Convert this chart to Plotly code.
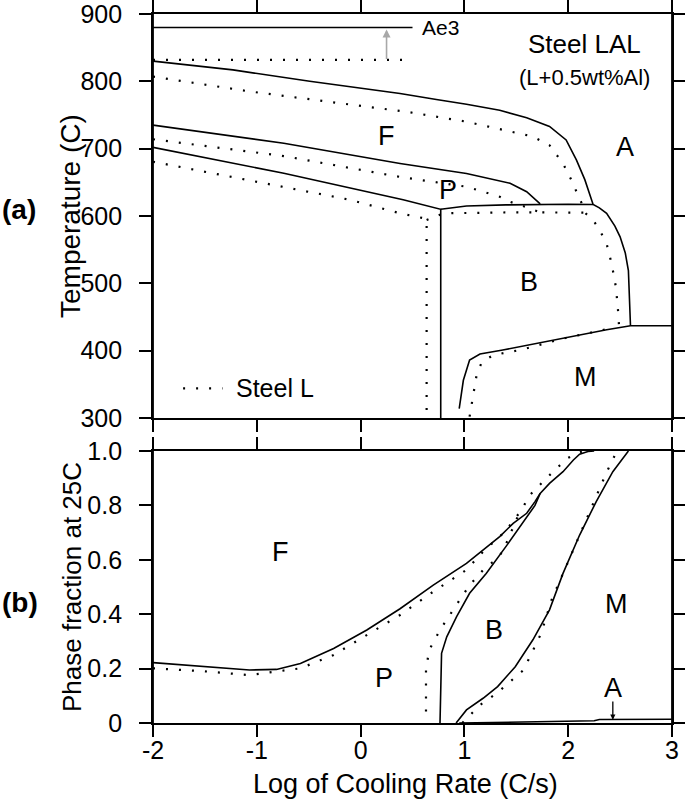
import plotly.graph_objects as go

# ---------------- (a) CCT diagram: temperature vs log cooling rate ----------------
# Steel LAL (solid)
ae3_lal_x = [-2, 0.5]
ae3_lal_T = [880, 880]
fs_lal_x = [-2, -1.23, -0.49, 0.38, 0.73, 1.02, 1.34, 1.6, 1.82, 1.98, 2.08, 2.16, 2.24, 2.3, 2.37, 2.45, 2.5, 2.55, 2.58, 2.59, 2.6]
fs_lal_T = [830, 817, 800, 782, 773, 766, 757, 746, 733, 713, 683, 654, 617, 612, 604, 585, 569, 545, 519, 480, 437]
ps_lal_x = [-2, -0.74, 0.38, 1.02, 1.44, 1.6, 1.73]
ps_lal_T = [735, 708, 678, 663, 648.5, 636, 618]
pf_lal_x = [-2, -0.74, 0.41, 0.772, 0.772]
pf_lal_T = [702, 663.4, 624, 610, 300]
bs_lal_x = [0.772, 0.9, 1.02, 1.4, 1.73, 2.0, 2.24]
bs_lal_T = [610, 613, 614.8, 616.5, 617.5, 617.5, 617]
ms_lal_x = [0.95, 0.99, 1.05, 1.15, 1.37, 1.86, 2.37, 2.6, 3.0]
ms_lal_T = [314, 356, 386, 395, 401, 416, 431, 437, 437]

# Steel L (dotted)
ae3_l_x = [-2, 0.48]
ae3_l_T = [832, 832]
fs_l_x = [-2, -1.07, 0.476, 1.02, 1.66, 1.82, 1.95, 2.03, 2.1, 2.13, 2.16, 2.24, 2.3, 2.37, 2.42, 2.46, 2.48, 2.49]
fs_l_T = [807, 785, 754, 740, 718, 705, 678, 653.5, 629, 619, 605, 594, 580, 559, 528, 494, 460, 436]
ps_l_x = [-2, -0.74, 0.38, 1.02, 1.34, 1.44, 1.6, 1.72]
ps_l_T = [714, 689, 658, 643.5, 628.7, 621, 613, 606]
pf_l_x = [-2, -0.74, -0.1, 0.38, 0.6, 0.636, 0.636]
pf_l_T = [680.6, 643.5, 624, 604, 597, 594, 300]
bs_l_x = [0.636, 0.8, 1.5, 2.11, 2.16]
bs_l_T = [594, 604, 605.5, 605.5, 605]
ms_l_x = [1.05, 1.09, 1.12, 1.17, 1.28, 1.54, 1.95, 2.45]
ms_l_T = [302, 341.6, 366, 383.6, 393.5, 401, 418, 434.5]

legend_x = [-1.71, -1.33]
legend_T = [344, 344]

# ---------------- (b) phase fractions at 25C ----------------
# Steel LAL (solid)
ff_lal_x = [-2, -1.5, -1.07, -0.81, -0.58, -0.26, 0.06, 0.38, 0.7, 1.02, 1.34, 1.47, 1.6, 1.68, 1.73, 1.82, 1.95, 2.05, 2.11, 2.19, 2.25]
ff_lal_f = [0.222, 0.207, 0.195, 0.197, 0.219, 0.274, 0.342, 0.42, 0.507, 0.587, 0.685, 0.734, 0.771, 0.814, 0.844, 0.881, 0.924, 0.967, 0.988, 0.998, 1.0]
pb_lal_x = [0.765, 0.77, 0.78, 0.83, 0.925, 1.05, 1.21, 1.41, 1.57, 1.68, 1.73]
pb_lal_f = [0.0, 0.15, 0.256, 0.317, 0.391, 0.477, 0.55, 0.654, 0.74, 0.80, 0.844]
bm_lal_x = [0.92, 1.02, 1.18, 1.32, 1.49, 1.66, 1.82, 1.95, 2.11, 2.27, 2.43, 2.58]
bm_lal_f = [0.0, 0.048, 0.091, 0.134, 0.207, 0.306, 0.416, 0.55, 0.691, 0.814, 0.924, 1.0]
ra_lal_x = [0.95, 1.5, 1.82, 2.25, 2.3, 3.0]
ra_lal_f = [0.0, 0.003, 0.006, 0.008, 0.013, 0.014]

# Steel L (dotted)
ff_l_x = [-2, -1.5, -1.07, -0.58, -0.26, 0.06, 0.38, 0.7, 1.02, 1.18, 1.39, 1.55, 1.63, 1.79, 1.99, 2.11, 2.15]
ff_l_f = [0.201, 0.19, 0.176, 0.201, 0.25, 0.324, 0.397, 0.483, 0.563, 0.63, 0.703, 0.783, 0.838, 0.9, 0.973, 0.995, 1.0]
pb_l_x = [0.63, 0.63, 0.66, 0.765, 0.89, 1.05, 1.21, 1.28, 1.37, 1.49, 1.52]
pb_l_f = [0.042, 0.195, 0.268, 0.342, 0.415, 0.507, 0.575, 0.593, 0.63, 0.74, 0.765]
bm_l_x = [0.98, 1.15, 1.31, 1.57, 1.74, 1.84, 2.0, 2.16, 2.26, 2.32, 2.37, 2.45]
bm_l_f = [0.0, 0.066, 0.109, 0.195, 0.33, 0.453, 0.593, 0.734, 0.826, 0.875, 0.922, 0.985]

x_ticks = [-2, -1, 0, 1, 2, 3]
x_ticktext = ["-2", "-1", "0", "1", "2", "3"]
T_ticks = [300, 400, 500, 600, 700, 800, 900]
f_ticks = [0, 0.2, 0.4, 0.6, 0.8, 1.0]
f_ticktext = ["0", "0.2", "0.4", "0.6", "0.8", "1.0"]

FONT = "Liberation Sans, Arial, sans-serif"
SOLID = dict(color="black", width=1.6)
DOT = dict(color="black", width=2.2, dash="2px,11px")

fig = go.Figure()

def add(x, y, line, xa="x", ya="y"):
    fig.add_trace(go.Scatter(x=x, y=y, mode="lines", line=line, xaxis=xa, yaxis=ya,
                             showlegend=False, hoverinfo="skip"))

# top
for xs, ys in [(ae3_lal_x, ae3_lal_T), (fs_lal_x, fs_lal_T), (ps_lal_x, ps_lal_T),
               (pf_lal_x, pf_lal_T), (bs_lal_x, bs_lal_T), (ms_lal_x, ms_lal_T)]:
    add(xs, ys, SOLID)
for xs, ys in [(ae3_l_x, ae3_l_T), (fs_l_x, fs_l_T), (ps_l_x, ps_l_T),
               (pf_l_x, pf_l_T), (bs_l_x, bs_l_T), (ms_l_x, ms_l_T), (legend_x, legend_T)]:
    add(xs, ys, DOT)
# bottom
for xs, ys in [(ff_lal_x, ff_lal_f), (pb_lal_x, pb_lal_f), (bm_lal_x, bm_lal_f), (ra_lal_x, ra_lal_f)]:
    add(xs, ys, SOLID, "x2", "y2")
for xs, ys in [(ff_l_x, ff_l_f), (pb_l_x, pb_l_f), (bm_l_x, bm_l_f)]:
    add(xs, ys, DOT, "x2", "y2")

H, MT, MB = 805, 14, 82
PH = H - MT - MB
PW = 685 - 153 - 13
def py2paper(py):
    return (H - MB - py) / PH
def px2paper(px):
    return (px - 153) / PW

axis_common = dict(showline=True, linecolor="black", linewidth=1.8, ticks="outside",
                   ticklen=12, tickwidth=1.8, tickcolor="black", mirror="ticks",
                   showgrid=False, zeroline=False, automargin=False,
                   ticklabeloverflow="allow",
                   tickfont=dict(family=FONT, size=25, color="black"))

fig.update_layout(
    template="none",
    width=685, height=805,
    margin=dict(l=153, r=13, t=MT, b=MB, autoexpand=False),
    paper_bgcolor="white", plot_bgcolor="white",
    showlegend=False,
    xaxis=dict(domain=[0, 1], range=[-2, 3], anchor="y", tickvals=x_ticks,
               showticklabels=False, **axis_common),
    yaxis=dict(domain=[py2paper(418), 1], range=[300, 900], anchor="x", tickvals=T_ticks,
               ticklabelstandoff=12, **axis_common),
    xaxis2=dict(domain=[0, 1], range=[-2, 3], anchor="y2", tickvals=x_ticks,
                ticktext=x_ticktext, ticklabelstandoff=-8, **axis_common),
    yaxis2=dict(domain=[0, py2paper(451)], range=[0, 1], anchor="x2", tickvals=f_ticks,
                ticktext=f_ticktext, ticklabelstandoff=12, **axis_common),
)

# extend the frame side lines by the tick length, like the original
for xp in (0, 1):
    fig.add_shape(type="line", xref="paper", yref="paper", x0=xp, x1=xp,
                  y0=py2paper(0), y1=py2paper(431), line=dict(color="black", width=1.8))
    fig.add_shape(type="line", xref="paper", yref="paper", x0=xp, x1=xp,
                  y0=py2paper(438), y1=py2paper(735), line=dict(color="black", width=1.8))

def txt(x, y, s, size=27, xa="x", ya="y", **kw):
    kw.setdefault("xanchor", "center")
    fig.add_annotation(x=x, y=y, text=s, xref=xa, yref=ya, showarrow=False, yanchor="middle",
                       font=dict(family=FONT, size=size, color="black"), **kw)

# top labels
txt(0.57, 880, "Ae3", size=21, xanchor="left")
txt(2.16, 855, "Steel LAL", size=26)
txt(2.16, 805, "(L+0.5wt%Al)", size=22)
txt(0.245, 719, "F")
txt(2.55, 702, "A")
txt(0.84, 638, "P")
txt(1.62, 502, "B")
txt(2.17, 361, "M")
txt(-1.22, 344, "Steel L", size=25, xanchor="left")
fig.add_annotation(x=0.25, y=877, ax=0.25, ay=831, xref="x", yref="y", axref="x", ayref="y",
                   showarrow=True, arrowhead=2, arrowsize=1, arrowwidth=1.6,
                   arrowcolor="#a8a8a8", text="")

# bottom labels
txt(-0.77, 0.627, "F", xa="x2", ya="y2")
txt(0.225, 0.165, "P", xa="x2", ya="y2")
txt(1.285, 0.342, "B", xa="x2", ya="y2")
txt(2.47, 0.437, "M", xa="x2", ya="y2")
txt(2.43, 0.128, "A", xa="x2", ya="y2")
fig.add_annotation(x=2.43, y=0.012, ax=2.43, ay=0.085, xref="x2", yref="y2", axref="x2", ayref="y2",
                   showarrow=True, arrowhead=2, arrowsize=0.8, arrowwidth=1.3,
                   arrowcolor="black", text="")

# axis titles and panel tags (paper coordinates)
def ptxt(px, py, s, size=26, angle=0):
    fig.add_annotation(x=px2paper(px), y=py2paper(py), xref="paper", yref="paper",
                       xanchor="center", yanchor="middle", text=s, textangle=angle,
                       showarrow=False, font=dict(family=FONT, size=size, color="black"))

ptxt(70, 216, "Temperature (C)", size=28, angle=-90)
ptxt(72, 587, "Phase fraction at 25C", angle=-90)
ptxt(405, 784, "Log of Cooling Rate (C/s)", size=27)
ptxt(19, 209, "<b>(a)</b>", size=28)
ptxt(20, 602, "<b>(b)</b>", size=28)

fig.write_html("out.html", config={"displayModeBar": False},
               post_script="document.body.style.margin='0px';")
